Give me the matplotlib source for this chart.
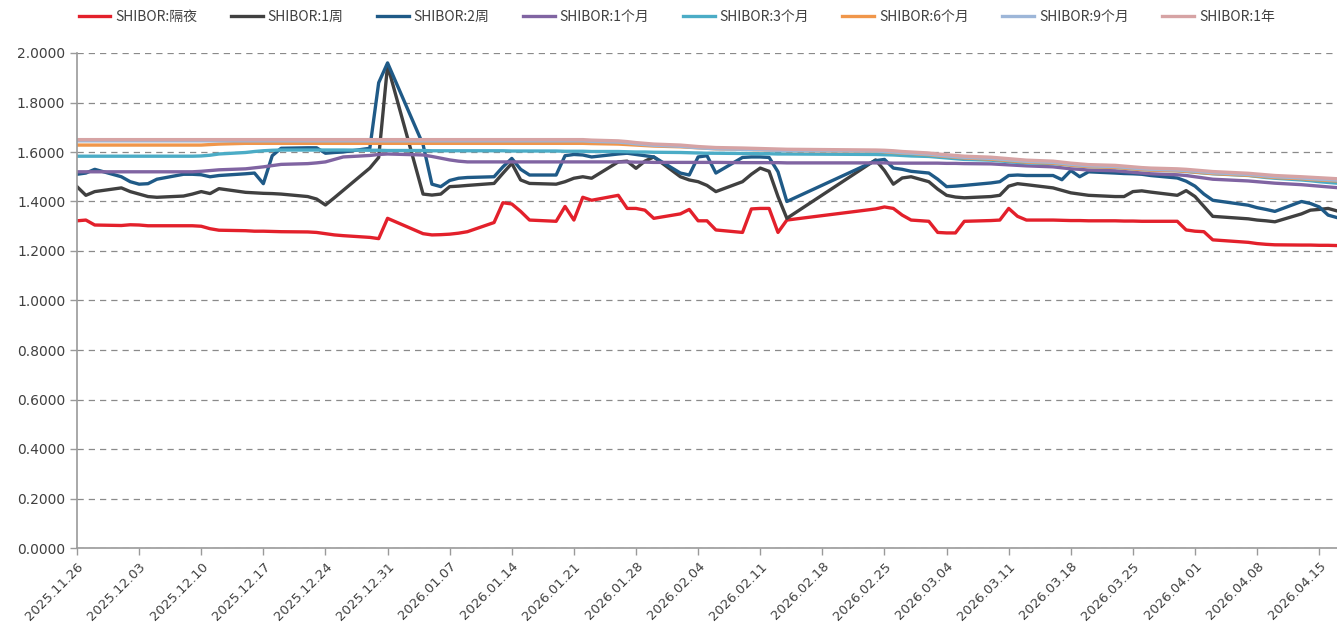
import pandas as pd
import matplotlib.pyplot as plt
import matplotlib.dates as mdates
from matplotlib.ticker import MultipleLocator, FormatStrFormatter

plt.rcParams['font.family'] = ['Noto Sans CJK SC', 'DejaVu Sans']

dates = pd.to_datetime([
    '2025-11-26', '2025-11-27', '2025-11-28',
    '2025-12-01', '2025-12-02', '2025-12-03', '2025-12-04', '2025-12-05',
    '2025-12-08', '2025-12-09', '2025-12-10', '2025-12-11', '2025-12-12',
    '2025-12-15', '2025-12-16', '2025-12-17', '2025-12-18', '2025-12-19',
    '2025-12-22', '2025-12-23', '2025-12-24', '2025-12-25', '2025-12-26',
    '2025-12-29', '2025-12-30', '2025-12-31',
    '2026-01-04',
    '2026-01-05', '2026-01-06', '2026-01-07', '2026-01-08', '2026-01-09',
    '2026-01-12', '2026-01-13', '2026-01-14', '2026-01-15', '2026-01-16',
    '2026-01-19', '2026-01-20', '2026-01-21', '2026-01-22', '2026-01-23',
    '2026-01-26', '2026-01-27', '2026-01-28', '2026-01-29', '2026-01-30',
    '2026-02-02', '2026-02-03', '2026-02-04', '2026-02-05', '2026-02-06',
    '2026-02-09', '2026-02-10', '2026-02-11', '2026-02-12', '2026-02-13',
    '2026-02-14',
    '2026-02-24', '2026-02-25', '2026-02-26', '2026-02-27', '2026-02-28',
    '2026-03-02', '2026-03-03', '2026-03-04', '2026-03-05', '2026-03-06',
    '2026-03-09', '2026-03-10', '2026-03-11', '2026-03-12', '2026-03-13',
    '2026-03-16', '2026-03-17', '2026-03-18', '2026-03-19', '2026-03-20',
    '2026-03-23', '2026-03-24', '2026-03-25', '2026-03-26', '2026-03-27',
    '2026-03-30', '2026-03-31',
    '2026-04-01', '2026-04-02', '2026-04-03',
    '2026-04-07', '2026-04-08', '2026-04-09', '2026-04-10',
    '2026-04-13', '2026-04-14', '2026-04-15', '2026-04-16', '2026-04-17',
])

on = [
    1.322, 1.325, 1.305,
    1.303, 1.306, 1.305, 1.302, 1.302,
    1.302, 1.302, 1.300, 1.290, 1.284,
    1.282, 1.280, 1.280, 1.279, 1.278,
    1.277, 1.275, 1.270, 1.265, 1.262,
    1.255, 1.250, 1.332,
    1.270,
    1.265, 1.266, 1.268, 1.272, 1.278,
    1.315, 1.395, 1.390, 1.360, 1.325,
    1.320, 1.380, 1.325, 1.417, 1.405,
    1.425, 1.372, 1.372, 1.365, 1.332,
    1.350, 1.368, 1.322, 1.322, 1.285,
    1.275, 1.370, 1.372, 1.372, 1.275,
    1.325,
    1.370, 1.378, 1.372, 1.345, 1.325,
    1.320, 1.275, 1.273, 1.273, 1.320,
    1.323, 1.325, 1.372, 1.340, 1.325,
    1.325, 1.324, 1.323, 1.323, 1.322,
    1.322, 1.321, 1.321, 1.320, 1.320,
    1.320, 1.285,
    1.280, 1.278, 1.245,
    1.235, 1.230, 1.227, 1.225,
    1.224, 1.224, 1.223, 1.223, 1.222,
]

w1 = [
    1.460, 1.425, 1.440,
    1.455, 1.440, 1.430, 1.420, 1.417,
    1.422, 1.430, 1.440, 1.432, 1.452,
    1.437, 1.435, 1.433, 1.432, 1.430,
    1.420, 1.410, 1.386, 1.415, 1.445,
    1.535, 1.578, 1.950,
    1.430,
    1.426, 1.430, 1.460, 1.462, 1.465,
    1.473, 1.514, 1.554, 1.487, 1.473,
    1.470, 1.480, 1.494, 1.500, 1.494,
    1.560, 1.563, 1.534, 1.563, 1.580,
    1.500, 1.487, 1.480, 1.465, 1.440,
    1.480, 1.510, 1.535, 1.522, 1.420,
    1.332,
    1.568, 1.525, 1.470, 1.495, 1.500,
    1.480, 1.450, 1.425, 1.418, 1.415,
    1.420, 1.425, 1.462, 1.472, 1.468,
    1.455, 1.445, 1.435, 1.430, 1.425,
    1.420, 1.420, 1.440, 1.443, 1.438,
    1.425, 1.444,
    1.420, 1.380, 1.340,
    1.330, 1.325, 1.322, 1.318,
    1.350, 1.365, 1.368, 1.372, 1.362,
]

w2 = [
    1.510, 1.515, 1.530,
    1.500, 1.480, 1.470, 1.472, 1.490,
    1.510, 1.510, 1.508, 1.500, 1.505,
    1.512, 1.515, 1.472, 1.585, 1.615,
    1.617, 1.617, 1.595, 1.598, 1.600,
    1.615, 1.880, 1.960,
    1.630,
    1.470, 1.460, 1.485, 1.494, 1.497,
    1.500, 1.540, 1.574, 1.530, 1.507,
    1.507, 1.585, 1.590, 1.588, 1.580,
    1.592, 1.595, 1.590, 1.585, 1.580,
    1.515, 1.507, 1.580, 1.585, 1.515,
    1.578, 1.580, 1.580, 1.578, 1.520,
    1.400,
    1.565, 1.570, 1.535, 1.530, 1.522,
    1.515, 1.490, 1.460, 1.462, 1.465,
    1.475, 1.480, 1.505, 1.507, 1.505,
    1.505, 1.488, 1.525, 1.500, 1.520,
    1.515, 1.513, 1.512, 1.510, 1.505,
    1.495, 1.482,
    1.462, 1.430, 1.405,
    1.385, 1.375, 1.368, 1.360,
    1.400, 1.392, 1.378, 1.345, 1.335,
]

m1 = [
    1.520, 1.520, 1.520,
    1.520, 1.520, 1.520, 1.520, 1.520,
    1.520, 1.520, 1.522, 1.525, 1.528,
    1.532, 1.536, 1.540, 1.545, 1.550,
    1.553, 1.556, 1.560, 1.570, 1.580,
    1.586, 1.590, 1.592,
    1.588,
    1.582, 1.575, 1.568, 1.563, 1.560,
    1.560, 1.560, 1.560, 1.560, 1.560,
    1.560, 1.560, 1.560, 1.560, 1.560,
    1.560, 1.560, 1.559, 1.559, 1.558,
    1.558, 1.558, 1.558, 1.558, 1.558,
    1.557, 1.557, 1.557, 1.557, 1.557,
    1.556,
    1.556, 1.556, 1.555, 1.555, 1.555,
    1.555, 1.555, 1.554, 1.554, 1.553,
    1.552, 1.550, 1.548, 1.546, 1.544,
    1.540, 1.536, 1.532, 1.530, 1.527,
    1.524, 1.521, 1.518, 1.515, 1.512,
    1.508, 1.505,
    1.500, 1.495, 1.490,
    1.483, 1.480, 1.477, 1.474,
    1.468, 1.465, 1.462, 1.459, 1.456,
]

m3 = [
    1.583, 1.583, 1.583,
    1.583, 1.583, 1.583, 1.583, 1.583,
    1.583, 1.583, 1.584, 1.587, 1.592,
    1.598, 1.602, 1.605, 1.607, 1.608,
    1.608, 1.608, 1.608, 1.608, 1.608,
    1.607, 1.607, 1.606,
    1.606,
    1.605, 1.605, 1.605, 1.605, 1.605,
    1.605, 1.605, 1.604, 1.604, 1.604,
    1.604, 1.603, 1.603, 1.603, 1.602,
    1.602, 1.601, 1.600, 1.600, 1.599,
    1.598, 1.597, 1.596, 1.595, 1.595,
    1.594, 1.594, 1.593, 1.593, 1.592,
    1.592,
    1.590, 1.589, 1.588, 1.586, 1.584,
    1.582, 1.579, 1.576, 1.573, 1.570,
    1.567, 1.564, 1.561, 1.558, 1.556,
    1.553, 1.550, 1.547, 1.544, 1.541,
    1.538, 1.535, 1.532, 1.529, 1.527,
    1.524, 1.521,
    1.518, 1.515, 1.512,
    1.505, 1.501, 1.497, 1.494,
    1.487, 1.484, 1.480, 1.477, 1.474,
]

m6 = [
    1.628, 1.628, 1.628,
    1.628, 1.628, 1.628, 1.628, 1.628,
    1.628, 1.628, 1.628, 1.630, 1.632,
    1.635, 1.635, 1.635, 1.635, 1.635,
    1.635, 1.635, 1.635, 1.635, 1.635,
    1.635, 1.635, 1.635,
    1.635,
    1.635, 1.635, 1.635, 1.635, 1.635,
    1.635, 1.635, 1.635, 1.635, 1.635,
    1.635, 1.635, 1.635, 1.635, 1.634,
    1.632, 1.630, 1.628, 1.626, 1.624,
    1.621, 1.619, 1.617, 1.615, 1.613,
    1.611, 1.610, 1.609, 1.608, 1.607,
    1.606,
    1.603, 1.601, 1.598, 1.596, 1.594,
    1.589, 1.585, 1.582, 1.579, 1.576,
    1.571, 1.568, 1.565, 1.562, 1.559,
    1.555, 1.551, 1.547, 1.544, 1.541,
    1.538, 1.535, 1.532, 1.529, 1.527,
    1.524, 1.522,
    1.519, 1.516, 1.513,
    1.506, 1.503, 1.500, 1.497,
    1.492, 1.489, 1.487, 1.485, 1.483,
]

m9 = [
    1.645, 1.645, 1.645,
    1.645, 1.645, 1.645, 1.645, 1.645,
    1.645, 1.645, 1.645, 1.645, 1.645,
    1.645, 1.645, 1.645, 1.645, 1.645,
    1.645, 1.645, 1.645, 1.645, 1.645,
    1.645, 1.645, 1.645,
    1.645,
    1.645, 1.645, 1.645, 1.645, 1.645,
    1.645, 1.645, 1.645, 1.645, 1.645,
    1.645, 1.645, 1.645, 1.645, 1.643,
    1.640, 1.637, 1.633, 1.630, 1.627,
    1.623, 1.620, 1.617, 1.615, 1.613,
    1.611, 1.610, 1.609, 1.608, 1.607,
    1.606,
    1.604, 1.602, 1.600, 1.597, 1.595,
    1.591, 1.587, 1.584, 1.581, 1.578,
    1.574, 1.571, 1.568, 1.565, 1.562,
    1.558, 1.554, 1.550, 1.547, 1.544,
    1.541, 1.538, 1.535, 1.532, 1.530,
    1.527, 1.525,
    1.522, 1.519, 1.516,
    1.509, 1.506, 1.503, 1.500,
    1.495, 1.492, 1.490, 1.488, 1.486,
]

y1 = [
    1.650, 1.650, 1.650,
    1.650, 1.650, 1.650, 1.650, 1.650,
    1.650, 1.650, 1.650, 1.650, 1.650,
    1.650, 1.650, 1.650, 1.650, 1.650,
    1.650, 1.650, 1.650, 1.650, 1.650,
    1.650, 1.650, 1.650,
    1.650,
    1.650, 1.650, 1.650, 1.650, 1.650,
    1.650, 1.650, 1.650, 1.650, 1.650,
    1.650, 1.650, 1.650, 1.650, 1.648,
    1.645, 1.642, 1.638, 1.635, 1.632,
    1.628, 1.625, 1.622, 1.620, 1.618,
    1.616, 1.615, 1.614, 1.613, 1.612,
    1.611,
    1.608, 1.607, 1.605, 1.602, 1.600,
    1.596, 1.592, 1.589, 1.586, 1.583,
    1.579, 1.576, 1.573, 1.570, 1.567,
    1.563, 1.559, 1.555, 1.552, 1.549,
    1.546, 1.543, 1.540, 1.537, 1.535,
    1.532, 1.530,
    1.527, 1.524, 1.521,
    1.514, 1.511, 1.508, 1.505,
    1.500, 1.498, 1.496, 1.494, 1.492,
]

names = ['SHIBOR:隔夜', 'SHIBOR:1周', 'SHIBOR:2周', 'SHIBOR:1个月',
         'SHIBOR:3个月', 'SHIBOR:6个月', 'SHIBOR:9个月', 'SHIBOR:1年']
values = [on, w1, w2, m1, m3, m6, m9, y1]
colors = ['#E3202B', '#404040', '#1F5A87', '#8064A2',
          '#4BACC6', '#F0964A', '#9DB6D8', '#D6A3A4']

fig = plt.figure(figsize=(13.37, 6.37), dpi=100)
ax = fig.add_axes([77/1337, 1 - 548/637, 1 - 77/1337, (548 - 53)/637])

for name, vals, c in zip(names, values, colors):
    ax.plot(dates, vals, color=c, lw=2.4, label=name)

ax.set_ylim(0, 2.0)
ax.yaxis.set_major_locator(MultipleLocator(0.2))
ax.yaxis.set_major_formatter(FormatStrFormatter('%.4f'))
ax.set_xlim(pd.Timestamp('2025-11-26'), pd.Timestamp('2026-04-17'))
ax.xaxis.set_major_locator(mdates.WeekdayLocator(byweekday=mdates.WE))
ax.xaxis.set_major_formatter(mdates.DateFormatter('%Y.%m.%d'))

ax.yaxis.grid(True, linestyle=(0, (5, 4)), color='#8a8a8a', lw=0.9)
ax.set_axisbelow(True)
for s in ['top', 'right']:
    ax.spines[s].set_visible(False)
for s in ['left', 'bottom']:
    ax.spines[s].set_color('#9a9a9a')
    ax.spines[s].set_linewidth(1.2)

ax.tick_params(axis='both', colors='#9a9a9a', length=5, width=1)
for lab in ax.get_yticklabels():
    lab.set_color('#404040')
    lab.set_fontsize(10)
    lab.set_family('DejaVu Sans')
for lab in ax.get_xticklabels():
    lab.set_color('#404040')
    lab.set_fontsize(9.5)
    lab.set_family('DejaVu Sans')
    lab.set_rotation(45)
    lab.set_ha('right')
    lab.set_va('top')
    lab.set_rotation_mode('anchor')

fig.legend(loc='center left', bbox_to_anchor=(66/1337, 1 - 17/637), ncol=8,
           frameon=False, fontsize=10, handlelength=2.3, handletextpad=0.35,
           columnspacing=2.4, labelcolor='#404040')

fig.savefig('out.png', dpi=100)
